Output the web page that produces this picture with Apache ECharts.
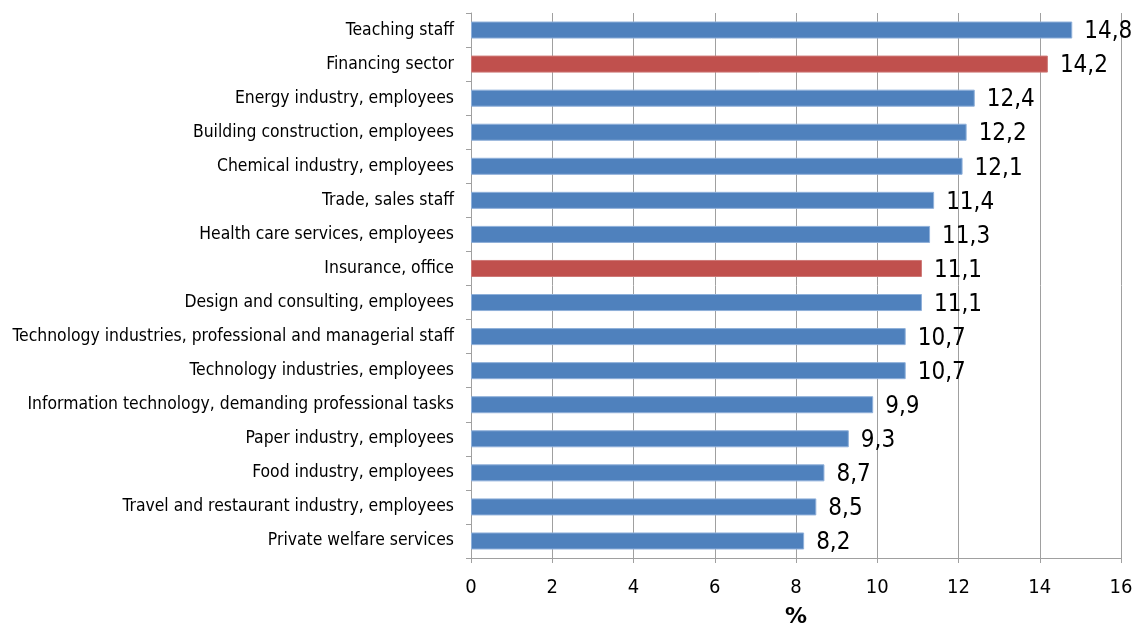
<!DOCTYPE html>
<html>
<head>
<meta charset="utf-8">
<script src="https://cdn.jsdelivr.net/npm/echarts@6/dist/echarts.min.js"></script>
<style>
  html, body { margin: 0; padding: 0; background: #fff; overflow: hidden; }
  #chart { width: 1135px; height: 626px; }
</style>
</head>
<body>
<div id="chart"></div>
<script>
// Occupational groups, listed top to bottom
const categories = [
  'Teaching staff',
  'Financing sector',
  'Energy industry, employees',
  'Building construction, employees',
  'Chemical industry, employees',
  'Trade, sales staff',
  'Health care services, employees',
  'Insurance, office',
  'Design and consulting, employees',
  'Technology industries, professional and managerial staff',
  'Technology industries, employees',
  'Information technology, demanding professional tasks',
  'Paper industry, employees',
  'Food industry, employees',
  'Travel and restaurant industry, employees',
  'Private welfare services'
];
const values = [14.8, 14.2, 12.4, 12.2, 12.1, 11.4, 11.3, 11.1, 11.1, 10.7, 10.7, 9.9, 9.3, 8.7, 8.5, 8.2];
const highlighted = ['Financing sector', 'Insurance, office'];
const xTicks = [0, 2, 4, 6, 8, 10, 12, 14, 16];

const BLUE = '#4f81bd';
const RED = '#c0504d';
const GRID = '#a0a0a0';
const FONT = '"DejaVu Sans Condensed", "DejaVu Sans", sans-serif';

const chart = echarts.init(document.getElementById('chart'));
chart.setOption({
  animation: false,
  grid: {
    left: 471, top: 13, width: 650, height: 545,
    containLabel: false,
    outerBoundsMode: 'none'
  },
  xAxis: {
    type: 'value',
    min: xTicks[0],
    max: xTicks[xTicks.length - 1],
    interval: 2,
    name: '%',
    nameLocation: 'middle',
    nameGap: 48,
    nameTextStyle: { fontFamily: '"DejaVu Sans", sans-serif', fontSize: 22, fontWeight: 'bold', color: '#000' },
    axisLine: { show: true, lineStyle: { color: GRID, width: 1 } },
    axisTick: { show: true, length: 5, lineStyle: { color: GRID } },
    axisLabel: { fontFamily: FONT, fontSize: 20, color: '#000', margin: 20 },
    splitLine: { show: true, lineStyle: { color: GRID, width: 1 } }
  },
  yAxis: {
    type: 'category',
    data: categories,
    inverse: true,
    axisLine: { show: true, lineStyle: { color: GRID, width: 1 } },
    axisTick: { show: true, length: 5, lineStyle: { color: GRID } },
    axisLabel: { fontFamily: FONT, fontSize: 17.4, color: '#000', margin: 17 },
    splitLine: { show: false }
  },
  series: [{
    type: 'bar',
    barWidth: '50%',
    data: values.map((v, i) => {
      const hl = highlighted.includes(categories[i]);
      return {
        value: v,
        itemStyle: {
          color: hl ? RED : BLUE,
          borderColor: hl ? '#cf7a78' : '#8fb0da',
          borderWidth: 1
        }
      };
    }),
    label: {
      show: true,
      position: 'right',
      distance: 12,
      offset: [0, 2],
      fontFamily: FONT,
      fontSize: 24,
      color: '#000',
      formatter: p => p.value.toFixed(1).replace('.', ',')
    }
  }]
});
</script>
</body>
</html>
